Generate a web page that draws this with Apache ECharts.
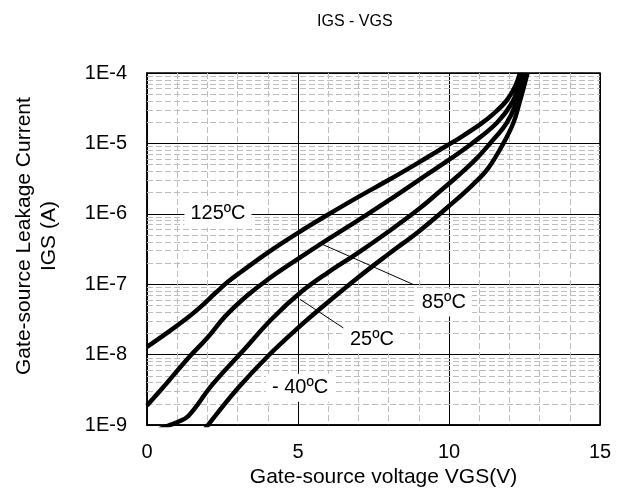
<!DOCTYPE html>
<html>
<head>
<meta charset="utf-8">
<script src="https://cdn.jsdelivr.net/npm/echarts@6/dist/echarts.min.js"></script>
<style>
  html, body { margin: 0; padding: 0; background: #fff; }
  #chart { width: 625px; height: 493px; }
</style>
</head>
<body>
<div id="chart"></div>
<script>
  // 数据 (VGS [V], IGS [A])
  const vgs125 = [0, 0.7, 1.3, 1.7, 2.3, 2.7, 3.1, 4.0, 5.0, 6.0, 7.0, 8.0, 9.0, 9.7, 10.36, 11.03, 11.47, 11.91, 12.19, 12.35]
  const igs125 = [1.29e-8, 2.09e-8, 3.24e-8, 4.47e-8, 7.76e-8, 1.10e-7, 1.48e-7, 2.82e-7, 5.37e-7, 9.77e-7, 1.74e-6, 3.02e-6, 5.37e-6, 8.13e-6, 1.20e-5, 1.86e-5, 2.63e-5, 4.07e-5, 6.46e-5, 1.0e-4]

  const vgs85 = [0, 0.5, 1.36, 2.0, 2.58, 3.3, 4.0, 5.0, 6.0, 7.0, 8.0, 9.0, 9.7, 10.76, 11.58, 12.08, 12.3, 12.42]
  const igs85 = [1.9e-9, 3.3e-9, 8.9e-9, 1.74e-8, 3.47e-8, 6.8e-8, 1.17e-7, 2.29e-7, 4.37e-7, 8.13e-7, 1.55e-6, 3.02e-6, 4.79e-6, 1.0e-5, 1.95e-5, 3.72e-5, 6.46e-5, 1.0e-4]

  const vgs25 = [0.4, 0.75, 1.0, 1.37, 2.15, 3.15, 4.14, 5.13, 6.0, 7.0, 8.0, 9.0, 9.7, 10.3, 10.9, 11.36, 11.91, 12.22, 12.48]
  const igs25 = [8.7e-10, 1.0e-9, 1.1e-9, 1.35e-9, 3.7e-9, 1.1e-8, 3.24e-8, 7.94e-8, 1.48e-7, 2.82e-7, 5.62e-7, 1.17e-6, 2.09e-6, 3.47e-6, 6.03e-6, 1.0e-5, 1.95e-5, 3.72e-5, 1.0e-4]

  const vgsM40 = [1.85, 2.02, 3.0, 4.0, 5.0, 6.0, 7.0, 8.0, 9.0, 10.0, 10.8, 11.3, 11.8, 12.13, 12.33, 12.6]
  const igsM40 = [7.9e-10, 1.0e-9, 3.3e-9, 9.5e-9, 2.4e-8, 5.6e-8, 1.26e-7, 2.69e-7, 5.62e-7, 1.29e-6, 2.63e-6, 4.47e-6, 1.0e-5, 1.95e-5, 3.72e-5, 1.0e-4]

  // 副刻度线 (2..9 × 10^n)
  const minorY = []
  for (let e = -9; e < -4; e++) {
    for (let m = 2; m <= 9; m++) minorY.push(m * Math.pow(10, e))
  }

  // 标注 [VGS, IGS, 文字]
  const tempLabels = [
    [2.35, 1.0e-6, '125ºC'],
    [9.83, 5.5e-8, '85ºC'],
    [7.45, 1.65e-8, '25ºC'],
    [5.07, 3.4e-9, '- 40ºC']
  ]
  // 箭头 [起点, 终点]
  const arrows = [
    [[8.8, 1.0e-7], [5.8, 3.7e-7]],
    [[6.5, 2.4e-8], [5.07, 6.1e-8]]
  ]

  const font = '"Liberation Sans", Arial, sans-serif'
  const zip = (xs, ys) => xs.map((x, i) => [x, ys[i]])

  const curve = (name, xs, ys) => ({
    name: name,
    type: 'line',
    data: zip(xs, ys),
    showSymbol: false,
    smooth: 0.4,
    z: 5,
    lineStyle: { color: '#000', width: 4.5 }
  })

  const myChart = echarts.init(document.getElementById('chart'))
  myChart.setOption({
    animation: false,
    backgroundColor: '#fff',
    title: {
      text: 'IGS - VGS',
      left: 312,
      top: 9,
      textStyle: { fontFamily: font, fontSize: 16, fontWeight: 'normal', color: '#000' }
    },
    grid: {
      left: 147, right: 25, top: 73, bottom: 66,
      show: true, borderColor: '#000', borderWidth: 1.5, backgroundColor: '#fff'
    },
    xAxis: {
      type: 'value',
      min: 0, max: 15, interval: 5,
      name: 'Gate-source voltage VGS(V)',
      nameLocation: 'middle',
      nameGap: 40,
      nameTextStyle: { fontFamily: font, fontSize: 21, color: '#000', padding: [0, 0, 0, 20] },
      axisLine: { show: true, lineStyle: { color: '#000', width: 1.5 } },
      axisTick: { show: false },
      axisLabel: { fontFamily: font, fontSize: 20, color: '#000', margin: 17 },
      splitLine: { show: true, lineStyle: { color: '#000', width: 1 } },
      minorTick: { show: false, splitNumber: 5 },
      minorSplitLine: { show: true, lineStyle: { color: '#bdbdbd', width: 1, type: [6, 3] } }
    },
    yAxis: {
      type: 'log',
      logBase: 10,
      min: 1e-9, max: 1e-4,
      name: 'Gate-source Leakage Current\nIGS (A)',
      nameLocation: 'middle',
      nameGap: 85,
      nameTextStyle: { fontFamily: font, fontSize: 21, color: '#000', lineHeight: 25, padding: [0, 0, 0, 26] },
      axisLine: { show: true, lineStyle: { color: '#000', width: 1.5 } },
      axisTick: { show: false },
      axisLabel: {
        fontFamily: font, fontSize: 20, color: '#000', margin: 20,
        formatter: v => '1E' + Math.round(Math.log10(v))
      },
      splitLine: { show: true, lineStyle: { color: '#000', width: 1 } }
    },
    series: [
      {
        type: 'line',
        data: [],
        silent: true,
        z: 3,
        markLine: {
          silent: true,
          symbol: 'none',
          label: { show: false },
          lineStyle: { color: '#bdbdbd', width: 1, type: [6, 3] },
          data: minorY.map(v => [{ coord: [0, v] }, { coord: [15, v] }])
        }
      },
      curve('125ºC', vgs125, igs125),
      curve('85ºC', vgs85, igs85),
      curve('25ºC', vgs25, igs25),
      curve('- 40ºC', vgsM40, igsM40),
      {
        type: 'line',
        data: [],
        silent: true,
        z: 6,
        markLine: {
          silent: true,
          symbol: ['none', 'arrow'],
          symbolSize: [0, 13],
          label: { show: false },
          lineStyle: { color: '#000', width: 1, type: 'solid' },
          data: arrows.map(a => [{ coord: a[0] }, { coord: a[1] }])
        },
        markPoint: {
          silent: true,
          symbol: 'rect',
          symbolSize: 1,
          itemStyle: { color: 'rgba(0,0,0,0)' },
          label: {
            show: true,
            position: 'inside',
            fontFamily: font,
            fontSize: 20,
            color: '#000',
            backgroundColor: '#fff',
            padding: [4, 6],
            formatter: p => p.name
          },
          data: tempLabels.map(t => ({ coord: [t[0], t[1]], name: t[2] }))
        }
      }
    ]
  })
</script>
</body>
</html>
